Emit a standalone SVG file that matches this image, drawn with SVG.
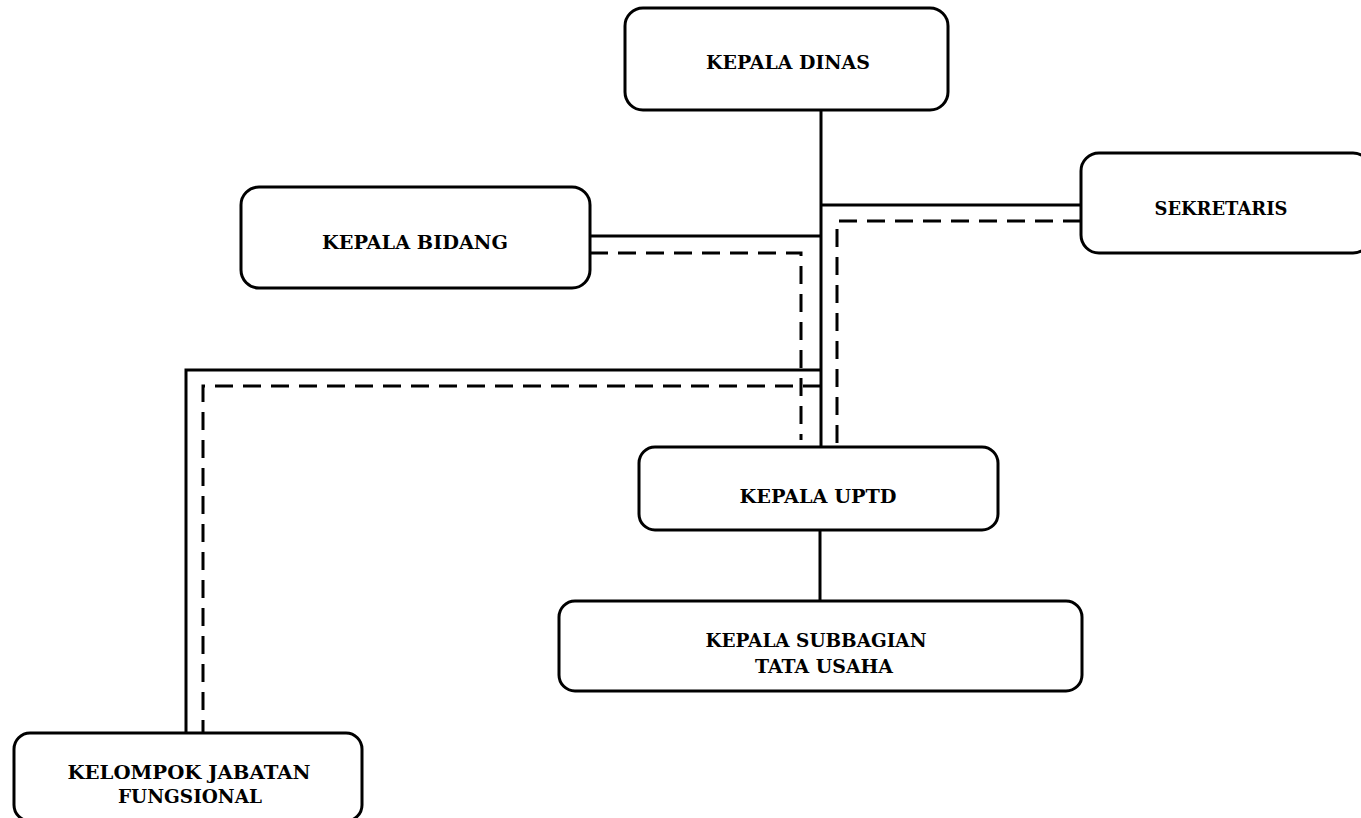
<svg xmlns="http://www.w3.org/2000/svg" width="1361" height="818" viewBox="0 0 1361 818">
<style>
.box{fill:#fff;stroke:#000;stroke-width:3}
.t{font-family:"DejaVu Serif","Liberation Serif",serif;font-weight:bold;font-size:19px;fill:#000;text-anchor:middle}
.s{fill:none;stroke:#000;stroke-width:3}
.d{fill:none;stroke:#000;stroke-width:3;stroke-dasharray:18 10}
</style>
<rect width="1361" height="818" fill="#fff"/>
<g id="connectors">
<line class="s" x1="821" y1="110" x2="821" y2="447"/>
<line class="s" x1="821" y1="205" x2="1081" y2="205"/>
<polyline class="d" points="1081,221 837,221 837,447"/>
<line class="s" x1="590" y1="236" x2="821" y2="236"/>
<polyline class="d" points="590,253 801,253 801,440"/>
<polyline class="s" points="821,370 186,370 186,733"/>
<polyline class="d" points="821,386 203,386 203,733"/>
<line class="s" x1="820" y1="530" x2="820" y2="601"/>
</g>
<g id="kepala-dinas">
<rect class="box" x="625" y="8" width="323" height="102" rx="18"/>
<text class="t" x="788" y="69" textLength="164" lengthAdjust="spacingAndGlyphs">KEPALA DINAS</text>
</g>
<g id="sekretaris">
<rect class="box" x="1081" y="153" width="290" height="100" rx="18"/>
<text class="t" x="1221" y="215" textLength="133" lengthAdjust="spacingAndGlyphs">SEKRETARIS</text>
</g>
<g id="kepala-bidang">
<rect class="box" x="241" y="187" width="349" height="101" rx="18"/>
<text class="t" x="415" y="249" textLength="186" lengthAdjust="spacingAndGlyphs">KEPALA BIDANG</text>
</g>
<g id="kepala-uptd">
<rect class="box" x="639" y="447" width="359" height="83" rx="16"/>
<text class="t" x="818" y="503" textLength="157" lengthAdjust="spacingAndGlyphs">KEPALA UPTD</text>
</g>
<g id="kepala-subbagian">
<rect class="box" x="559" y="601" width="523" height="90" rx="16"/>
<text class="t" x="816" y="647" textLength="221" lengthAdjust="spacingAndGlyphs">KEPALA SUBBAGIAN</text>
<text class="t" x="824" y="673" textLength="138" lengthAdjust="spacingAndGlyphs">TATA USAHA</text>
</g>
<g id="kelompok-jabatan">
<rect class="box" x="14" y="733" width="348" height="88" rx="16"/>
<text class="t" x="189" y="779" textLength="243" lengthAdjust="spacingAndGlyphs">KELOMPOK JABATAN</text>
<text class="t" x="190" y="803" textLength="144" lengthAdjust="spacingAndGlyphs">FUNGSIONAL</text>
</g>
</svg>
